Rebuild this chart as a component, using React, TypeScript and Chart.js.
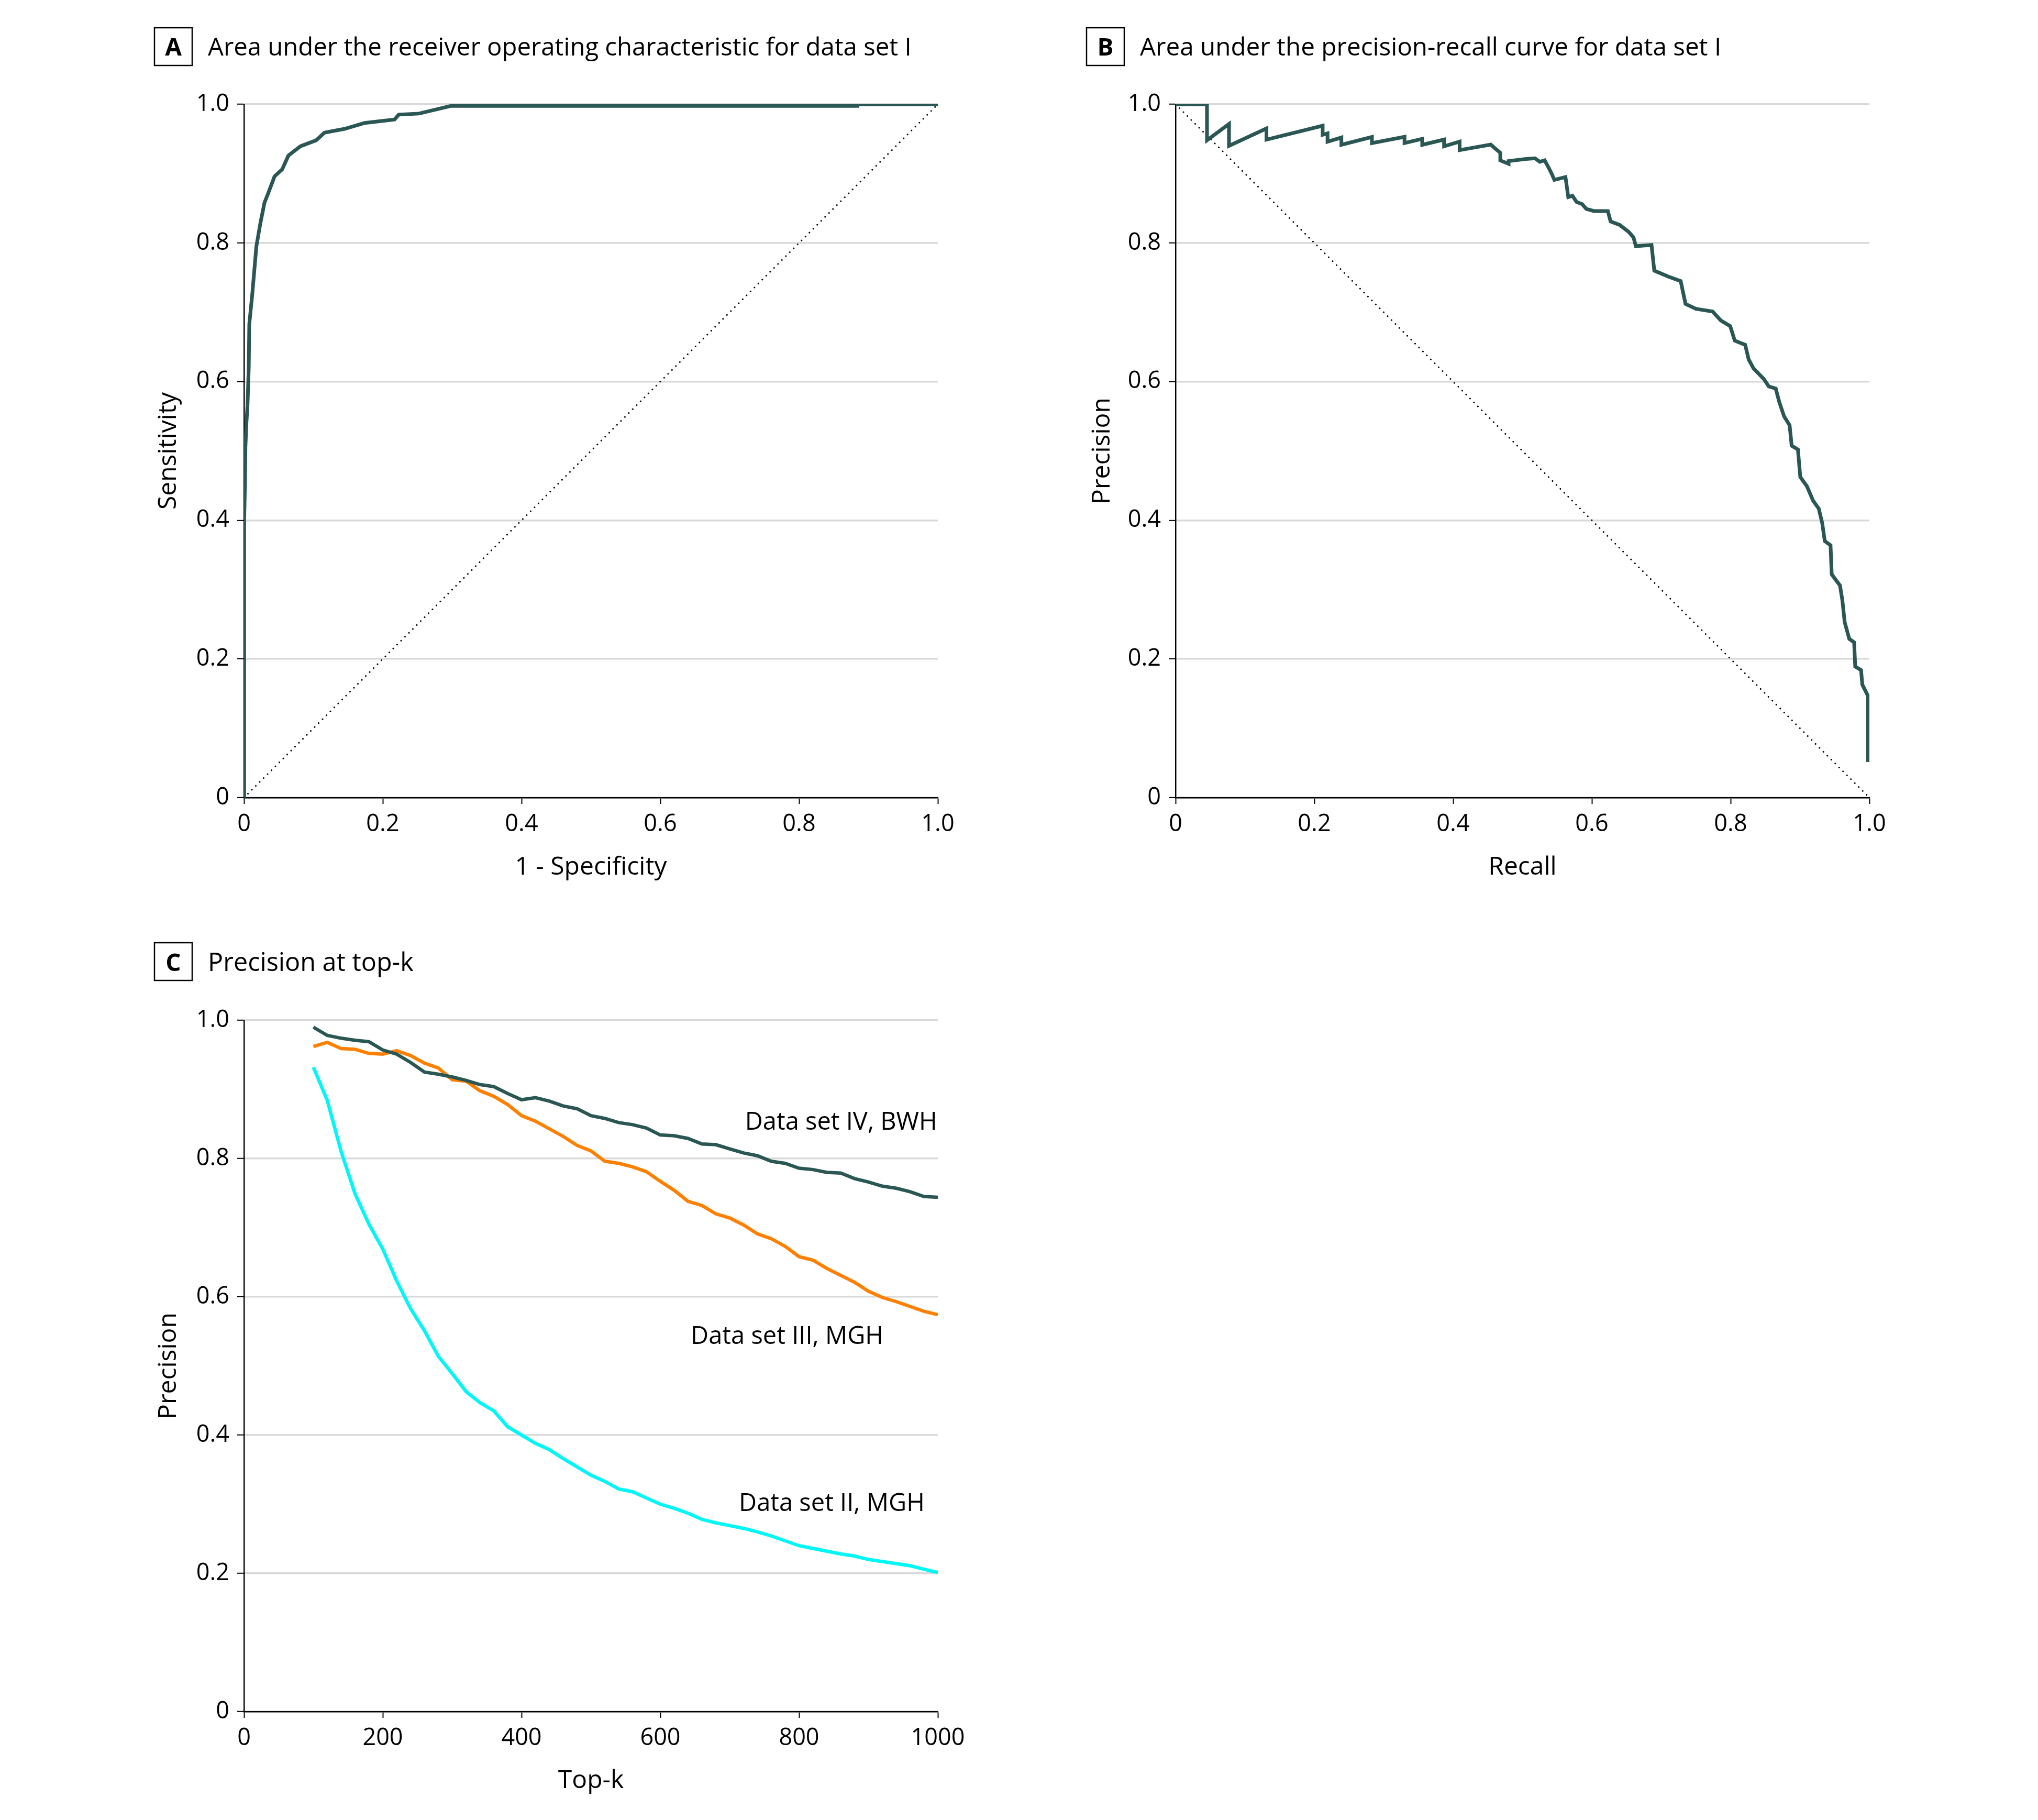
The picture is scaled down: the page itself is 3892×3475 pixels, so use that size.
import React, { useEffect, useRef } from "react";
import { Chart, registerables } from "chart.js";

Chart.register(...registerables);

const FONT = "'Open Sans', 'Liberation Sans', sans-serif";
const TEAL = "#2a5654";
const ORANGE = "#ff8000";
const CYAN = "#00f7f7";
const GRID = "#d9d9d9";

// ---------- Panel A: ROC, data set I ----------
const rocFpr = [0, 0, 0.0005, 0.0015, 0.002, 0.0035, 0.005, 0.0068, 0.0076, 0.012, 0.0178, 0.0235, 0.0295, 0.035, 0.044, 0.055, 0.064, 0.0815, 0.104, 0.116, 0.145, 0.174, 0.217, 0.223, 0.252, 0.298, 0.884, 0.884, 1.0];
const rocTpr = [0, 0.3, 0.4, 0.46, 0.505, 0.541, 0.565, 0.62, 0.683, 0.727, 0.795, 0.828, 0.858, 0.872, 0.896, 0.906, 0.926, 0.9395, 0.948, 0.959, 0.9645, 0.973, 0.978, 0.985, 0.9865, 0.9975, 0.9975, 1.0, 1.0];
const chanceAx = [0, 1];
const chanceAy = [0, 1];

// ---------- Panel B: precision-recall, data set I ----------
const prRecall = [0, 0.0453, 0.0453, 0.077, 0.077, 0.131, 0.131, 0.212, 0.212, 0.219, 0.219, 0.239, 0.239, 0.283, 0.283, 0.33, 0.33, 0.3555, 0.3555, 0.387, 0.387, 0.4094, 0.4094, 0.4543, 0.462, 0.468, 0.468, 0.48, 0.48, 0.505, 0.518, 0.525, 0.532, 0.538, 0.542, 0.546, 0.562, 0.566, 0.572, 0.578, 0.586, 0.592, 0.603, 0.623, 0.627, 0.64, 0.653, 0.66, 0.6634, 0.686, 0.69, 0.71, 0.728, 0.735, 0.75, 0.774, 0.786, 0.7994, 0.806, 0.821, 0.826, 0.833, 0.848, 0.855, 0.865, 0.87, 0.877, 0.885, 0.888, 0.897, 0.9004, 0.91, 0.919, 0.927, 0.932, 0.9357, 0.944, 0.9457, 0.9576, 0.961, 0.9644, 0.971, 0.978, 0.9796, 0.988, 0.9898, 0.9966, 0.998, 0.998];
const prPrecision = [1.0, 1.0, 0.948, 0.9715, 0.94, 0.965, 0.949, 0.969, 0.956, 0.958, 0.946, 0.952, 0.9415, 0.9527, 0.944, 0.953, 0.944, 0.95, 0.9415, 0.949, 0.9393, 0.946, 0.9338, 0.9418, 0.935, 0.93, 0.919, 0.914, 0.918, 0.921, 0.922, 0.917, 0.919, 0.908, 0.9, 0.891, 0.895, 0.866, 0.868, 0.859, 0.856, 0.849, 0.846, 0.846, 0.831, 0.826, 0.816, 0.808, 0.7953, 0.797, 0.76, 0.7515, 0.745, 0.712, 0.705, 0.701, 0.688, 0.68, 0.659, 0.653, 0.632, 0.619, 0.6036, 0.593, 0.59, 0.571, 0.55, 0.537, 0.5075, 0.502, 0.4624, 0.449, 0.428, 0.417, 0.396, 0.37, 0.364, 0.322, 0.306, 0.285, 0.253, 0.229, 0.224, 0.189, 0.184, 0.163, 0.1495, 0.1467, 0.0513];
const chanceBx = [0, 1];
const chanceBy = [1, 0];

// ---------- Panel C: precision at top-k ----------
const topK = [100, 120, 140, 160, 180, 200, 220, 240, 260, 280, 300, 320, 340, 360, 380, 400, 420, 440, 460, 480, 500, 520, 540, 560, 580, 600, 620, 640, 660, 680, 700, 720, 740, 760, 780, 800, 820, 840, 860, 880, 900, 920, 940, 960, 980, 1000];
const precIV = [0.99, 0.978, 0.974, 0.971, 0.969, 0.957, 0.951, 0.939, 0.925, 0.922, 0.918, 0.913, 0.907, 0.904, 0.894, 0.885, 0.888, 0.883, 0.876, 0.872, 0.862, 0.858, 0.852, 0.849, 0.844, 0.834, 0.833, 0.829, 0.821, 0.82, 0.814, 0.808, 0.804, 0.796, 0.793, 0.786, 0.784, 0.78, 0.779, 0.771, 0.766, 0.76, 0.757, 0.752, 0.745, 0.744];
const precIII = [0.962, 0.968, 0.959, 0.958, 0.952, 0.951, 0.956, 0.949, 0.938, 0.931, 0.914, 0.912, 0.898, 0.89, 0.878, 0.862, 0.854, 0.843, 0.832, 0.819, 0.811, 0.796, 0.793, 0.788, 0.781, 0.767, 0.754, 0.738, 0.732, 0.72, 0.714, 0.704, 0.691, 0.684, 0.673, 0.658, 0.653, 0.641, 0.631, 0.621, 0.608, 0.599, 0.593, 0.586, 0.579, 0.574];
const precII = [0.932, 0.884, 0.81, 0.749, 0.705, 0.669, 0.623, 0.583, 0.551, 0.514, 0.489, 0.463, 0.447, 0.435, 0.412, 0.4, 0.388, 0.379, 0.366, 0.354, 0.342, 0.333, 0.322, 0.318, 0.309, 0.3, 0.294, 0.287, 0.278, 0.273, 0.269, 0.265, 0.26, 0.254, 0.247, 0.24, 0.236, 0.232, 0.228, 0.225, 0.22, 0.217, 0.214, 0.211, 0.206, 0.201];
const seriesNames = ["Data set IV, BWH", "Data set III, MGH", "Data set II, MGH"];
const seriesLabelK = [999, 921.5, 981];
const seriesLabelPrec = [0.8417, 0.5318, 0.2902];

// ---------- ticks ----------
const unitTicks = [0, 0.2, 0.4, 0.6, 0.8, 1.0];
const kTicks = [0, 200, 400, 600, 800, 1000];

const toXY = (xs: number[], ys: number[]) => xs.map((x, i) => ({ x, y: ys[i] }));
const fmtUnit = (v: any) => (Number(v) === 0 ? "0" : Number(v).toFixed(1));

type PanelCfg = {
  letter: string;
  title: string;
  boxX: number;
  boxY: number;
  textX: number;
  baseline: number;
  titleSize: number;
  labels?: { text: string[]; x: number[]; y: number[] };
};

function makePanelPlugin(cfg: PanelCfg) {
  return {
    id: "panelTitle" + cfg.letter,
    afterDraw(chart: any) {
      const { ctx } = chart;
      ctx.save();
      ctx.strokeStyle = "#000";
      ctx.lineWidth = 2.5;
      ctx.strokeRect(cfg.boxX, cfg.boxY, 72, 72);
      ctx.fillStyle = "#000";
      ctx.textBaseline = "alphabetic";
      ctx.textAlign = "center";
      ctx.font = `bold 46px ${FONT}`;
      ctx.fillText(cfg.letter, cfg.boxX + 36, cfg.baseline);
      ctx.textAlign = "left";
      ctx.font = `${cfg.titleSize}px ${FONT}`;
      ctx.fillText(cfg.title, cfg.textX, cfg.baseline);
      if (cfg.labels) {
        const xs = chart.scales.x;
        const ys = chart.scales.y;
        ctx.textAlign = "right";
        ctx.font = `47px ${FONT}`;
        cfg.labels.text.forEach((t, i) => {
          ctx.fillText(t, xs.getPixelForValue(cfg.labels!.x[i]), ys.getPixelForValue(cfg.labels!.y[i]));
        });
      }
      ctx.restore();
    },
  };
}

type AxisCfg = {
  xTitle: string;
  yTitle: string;
  xMax: number;
  xTicks: number[];
  xFmt: (v: any) => string;
  yAxisWidth: number;
  xAxisHeight: number;
  yTitlePad: number;
  xTitlePad: number;
};

function makeScales(a: AxisCfg) {
  return {
    x: {
      type: "linear",
      min: 0,
      max: a.xMax,
      afterBuildTicks: (s: any) => {
        s.ticks = a.xTicks.map((v) => ({ value: v }));
      },
      afterFit: (s: any) => {
        s.height = a.xAxisHeight;
      },
      ticks: {
        color: "#000",
        font: { family: FONT, size: 45 },
        padding: 12,
        maxRotation: 0,
        autoSkip: false,
        callback: a.xFmt,
      },
      grid: {
        drawOnChartArea: false,
        drawTicks: true,
        tickLength: 12,
        tickColor: "#000",
        tickWidth: 2,
      },
      border: { display: true, color: "#000", width: 2.5 },
      title: {
        display: true,
        text: a.xTitle,
        color: "#000",
        font: { family: FONT, size: 48 },
        padding: { top: 0, bottom: a.xTitlePad },
      },
    },
    y: {
      type: "linear",
      min: 0,
      max: 1,
      afterBuildTicks: (s: any) => {
        s.ticks = unitTicks.map((v) => ({ value: v }));
      },
      afterFit: (s: any) => {
        s.width = a.yAxisWidth;
      },
      ticks: {
        color: "#000",
        font: { family: FONT, size: 45 },
        padding: 15,
        autoSkip: false,
        callback: fmtUnit,
      },
      grid: {
        color: GRID,
        lineWidth: 3.5,
        drawTicks: true,
        tickLength: 13,
        tickColor: "#000",
        tickWidth: 2,
      },
      border: { display: true, color: "#000", width: 2.5 },
      title: {
        display: true,
        text: a.yTitle,
        color: "#000",
        font: { family: FONT, size: 48 },
        padding: { top: a.yTitlePad, bottom: 0 },
      },
    },
  };
}

const dotted = (data: any[]) => ({
  data,
  borderColor: "#000",
  borderWidth: 3,
  borderDash: [0.1, 10.5],
  borderCapStyle: "round",
  pointRadius: 0,
  fill: false,
  tension: 0,
});

const curve = (data: any[], color: string, width: number) => ({
  data,
  borderColor: color,
  borderWidth: width,
  pointRadius: 0,
  fill: false,
  tension: 0,
  borderJoinStyle: "miter",
});

function useChart(ref: React.RefObject<HTMLCanvasElement>, build: () => any) {
  useEffect(() => {
    if (!ref.current) return;
    const chart = new Chart(ref.current, build());
    return () => chart.destroy();
  }, []);
}

function PanelA() {
  const ref = useRef<HTMLCanvasElement>(null);
  useChart(ref, () => ({
    type: "line",
    data: {
      datasets: [curve(toXY(rocFpr, rocTpr), TEAL, 7), dotted(toXY(chanceAx, chanceAy))],
    },
    options: {
      responsive: false,
      animation: false,
      layout: { padding: { top: 199, right: 109, left: 0, bottom: 0 } },
      plugins: { legend: { display: false }, tooltip: { enabled: false } },
      scales: makeScales({
        xTitle: "1 - Specificity",
        yTitle: "Sensitivity",
        xMax: 1,
        xTicks: unitTicks,
        xFmt: fmtUnit,
        yAxisWidth: 466,
        xAxisHeight: 1750 - 1523,
        yTitlePad: 294,
        xTitlePad: 65,
      }),
    },
    plugins: [
      makePanelPlugin({
        letter: "A",
        title: "Area under the receiver operating characteristic for data set I",
        boxX: 295,
        boxY: 53,
        textX: 397,
        baseline: 106,
        titleSize: 47.3,
      }),
    ],
  }));
  return <canvas ref={ref} width={1900} height={1750} style={{ position: "absolute", left: 0, top: 0, width: 1900, height: 1750 }} />;
}

function PanelB() {
  const ref = useRef<HTMLCanvasElement>(null);
  useChart(ref, () => ({
    type: "line",
    data: {
      datasets: [curve(toXY(prRecall, prPrecision), TEAL, 7), dotted(toXY(chanceBx, chanceBy))],
    },
    options: {
      responsive: false,
      animation: false,
      layout: { padding: { top: 199, right: 1992 - 1670, left: 0, bottom: 0 } },
      plugins: { legend: { display: false }, tooltip: { enabled: false } },
      scales: makeScales({
        xTitle: "Recall",
        yTitle: "Precision",
        xMax: 1,
        xTicks: unitTicks,
        xFmt: fmtUnit,
        yAxisWidth: 345,
        xAxisHeight: 1750 - 1523,
        yTitlePad: 177,
        xTitlePad: 65,
      }),
    },
    plugins: [
      makePanelPlugin({
        letter: "B",
        title: "Area under the precision-recall curve for data set I",
        boxX: 175,
        boxY: 53,
        textX: 277,
        baseline: 106,
        titleSize: 47.6,
      }),
    ],
  }));
  return <canvas ref={ref} width={1992} height={1750} style={{ position: "absolute", left: 1900, top: 0, width: 1992, height: 1750 }} />;
}

function PanelC() {
  const ref = useRef<HTMLCanvasElement>(null);
  useChart(ref, () => ({
    type: "line",
    data: {
      datasets: [
        curve(toXY(topK, precIV), TEAL, 6.5),
        curve(toXY(topK, precIII), ORANGE, 6.5),
        curve(toXY(topK, precII), CYAN, 6.5),
      ],
    },
    options: {
      responsive: false,
      animation: false,
      layout: { padding: { top: 198, right: 109, left: 0, bottom: 0 } },
      plugins: { legend: { display: false }, tooltip: { enabled: false } },
      scales: makeScales({
        xTitle: "Top-k",
        yTitle: "Precision",
        xMax: 1000,
        xTicks: kTicks,
        xFmt: (v: any) => String(v),
        yAxisWidth: 466,
        xAxisHeight: 1725 - 1518,
        yTitlePad: 294,
        xTitlePad: 46,
      }),
    },
    plugins: [
      makePanelPlugin({
        letter: "C",
        title: "Precision at top-k",
        boxX: 295,
        boxY: 50,
        textX: 397,
        baseline: 104,
        titleSize: 48.5,
        labels: { text: seriesNames, x: seriesLabelK, y: seriesLabelPrec },
      }),
    ],
  }));
  return <canvas ref={ref} width={1900} height={1725} style={{ position: "absolute", left: 0, top: 1750, width: 1900, height: 1725 }} />;
}

export default function App() {
  return (
    <div style={{ position: "absolute", left: 0, top: 0, width: 3892, height: 3475, background: "#fff", overflow: "hidden" }}>
      <PanelA />
      <PanelB />
      <PanelC />
    </div>
  );
}
